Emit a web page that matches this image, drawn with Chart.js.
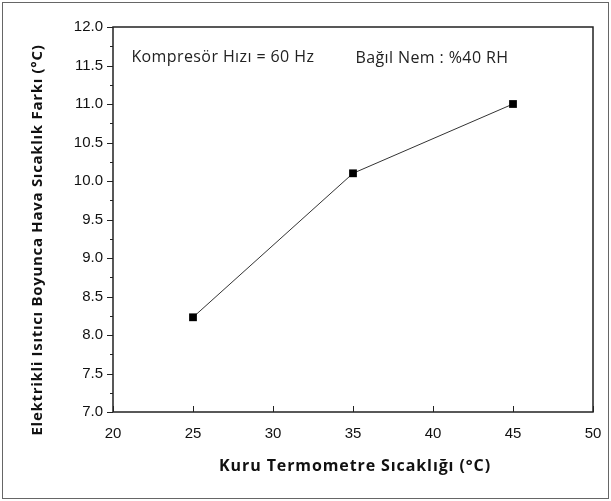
<!DOCTYPE html>
<html>
<head>
<meta charset="utf-8">
<script src="https://cdn.jsdelivr.net/npm/chart.js@4"></script>
<style>
  body { margin: 0; background: #fff; }
  #wrap { width: 611px; height: 501px; }
</style>
</head>
<body>
<div id="wrap"><canvas id="lineChart" width="611" height="501"></canvas></div>
<script>
const temps = [25, 35, 45];
const tempDiff = [8.23, 10.1, 11.0];
const xTicks = [20, 25, 30, 35, 40, 45, 50];
const yTicks = [7.0, 7.5, 8.0, 8.5, 9.0, 9.5, 10.0, 10.5, 11.0, 11.5, 12.0];
const notes = ["Kompresör Hızı = 60 Hz", "Bağıl Nem : %40 RH"];
const xTitle = "Kuru Termometre Sıcaklığı (°C)";
const yTitle = "Elektrikli Isıtıcı Boyunca Hava Sıcaklık Farkı (°C)";

// frame, ticks, titles and the two notes
const framePlugin = {
  id: "frame",
  afterDraw(chart) {
    const ctx = chart.ctx;
    const a = chart.chartArea;
    const x = chart.scales.x, y = chart.scales.y;
    ctx.save();
    ctx.strokeStyle = "#666";
    ctx.lineWidth = 1;
    ctx.strokeRect(2.5, 2.5, 606, 496);

    ctx.strokeStyle = "#222";
    ctx.lineWidth = 1.5;
    ctx.strokeRect(a.left, a.top, a.right - a.left, a.bottom - a.top);

    ctx.lineWidth = 1;
    ctx.beginPath();
    xTicks.forEach(function (v) {
      const px = Math.round(x.getPixelForValue(v)) + 0.5;
      ctx.moveTo(px, a.bottom);
      ctx.lineTo(px, a.bottom - 6);
    });
    for (let v = 7; v <= 12.001; v += 0.25) {
      const py = Math.round(y.getPixelForValue(v)) + 0.5;
      const major = Math.abs(v * 2 - Math.round(v * 2)) < 0.01;
      ctx.moveTo(a.left, py);
      ctx.lineTo(a.left - (major ? 6 : 3), py);
    }
    ctx.stroke();

    ctx.fillStyle = "#222";
    ctx.font = "16px 'Open Sans'";
    ctx.letterSpacing = "0.4px";
    ctx.textBaseline = "middle";
    ctx.fillText(notes[0], x.getPixelForValue(21.15), y.getPixelForValue(11.6));
    ctx.fillText(notes[1], x.getPixelForValue(35.15), y.getPixelForValue(11.59));

    ctx.fillStyle = "#111";
    ctx.textAlign = "center";
    ctx.font = "bold 16px 'Open Sans'";
    ctx.letterSpacing = "0.9px";
    ctx.fillText(xTitle, (a.left + a.right) / 2 + 2, 466);

    ctx.translate(38, 240);
    ctx.rotate(-Math.PI / 2);
    ctx.font = "bold 15px 'Open Sans'";
    ctx.letterSpacing = "0.7px";
    ctx.fillText(yTitle, 0, 0);
    ctx.restore();
  }
};

let totalChart = new Chart(document.getElementById("lineChart").getContext("2d"), {
  type: "scatter",
  data: {
    datasets: [
      {
        data: temps.map(function (t, i) { return { x: t, y: tempDiff[i] }; }),
        showLine: true,
        borderColor: "#333",
        borderWidth: 1,
        pointStyle: "rect",
        pointRadius: 5.5,
        pointBackgroundColor: "#000",
        pointBorderColor: "#000",
        pointBorderWidth: 0,
      },
    ],
  },
  options: {
    responsive: false,
    animation: false,
    layout: {
      padding: { left: 0, right: 18, top: 27, bottom: 0 },
    },
    plugins: {
      legend: { display: false },
      tooltip: { enabled: false },
    },
    scales: {
      x: {
        type: "linear",
        min: 20,
        max: 50,
        afterBuildTicks(scale) { scale.ticks = xTicks.map(function (v) { return { value: v }; }); },
        afterFit(scale) { scale.height = 89; },
        grid: { display: false },
        border: { display: false },
        ticks: { color: "#111", font: { family: "Liberation Sans", size: 15 }, padding: 5 },
      },
      y: {
        min: 7,
        max: 12,
        afterBuildTicks(scale) { scale.ticks = yTicks.map(function (v) { return { value: v }; }); },
        afterFit(scale) { scale.width = 113; },
        grid: { display: false },
        border: { display: false },
        ticks: {
          color: "#111",
          font: { family: "Liberation Sans", size: 15 },
          padding: 2,
          callback: function (v) { return Number(v).toFixed(1); },
        },
      },
    },
  },
  plugins: [framePlugin],
});
</script>
</body>
</html>
